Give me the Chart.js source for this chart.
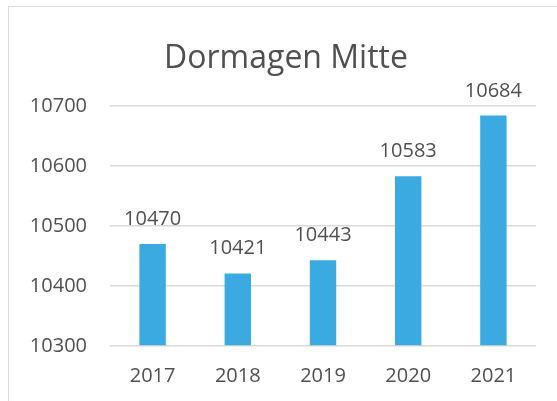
<!DOCTYPE html>
<html>
<head>
<meta charset="utf-8">
<script src="https://cdn.jsdelivr.net/npm/chart.js@4/dist/chart.umd.min.js"></script>
<style>
html,body{margin:0;padding:0;background:#fff;overflow:hidden;}
#wrap{position:relative;width:557px;height:401px;}
#frame{position:absolute;left:8px;top:6px;width:600px;height:500px;border-left:1px solid #d9d9d9;border-top:1px solid #d9d9d9;box-sizing:border-box;pointer-events:none;}
canvas{position:absolute;left:0;top:0;}
</style>
</head>
<body>
<div id="wrap">
<canvas id="c" width="557" height="401"></canvas>
<div id="frame"></div>
</div>
<script>
const title = "Dormagen Mitte";
const categories = ["2017", "2018", "2019", "2020", "2021"];
const values = [10470, 10421, 10443, 10583, 10684];
const yTicks = [10300, 10400, 10500, 10600, 10700];

const FONT = "'Open Sans', sans-serif";
const TXT = "#505050";

const labelPlugin = {
  id: 'labels',
  afterDatasetsDraw(chart) {
    const ctx = chart.ctx;
    ctx.save();
    ctx.font = "20px " + FONT;
    ctx.fillStyle = TXT;
    ctx.textAlign = "center";
    ctx.textBaseline = "alphabetic";
    chart.getDatasetMeta(0).data.forEach((bar, i) => {
      ctx.fillText(String(values[i]), bar.x, bar.y - 19);
    });
    ctx.font = "32px " + FONT;
    ctx.fillText(title, 286, 68);
    ctx.restore();
  }
};

new Chart(document.getElementById('c'), {
  type: 'bar',
  data: {
    labels: categories,
    datasets: [{
      data: values,
      backgroundColor: '#3AAAE0',
      categoryPercentage: 1,
      barPercentage: 0.31,
      base: yTicks[0]
    }]
  },
  options: {
    responsive: false,
    animation: false,
    layout: { padding: { left: 0, right: 21, top: 106, bottom: 0 } },
    plugins: { legend: { display: false }, tooltip: { enabled: false }, title: { display: false } },
    scales: {
      x: {
        grid: { display: false, drawTicks: false },
        border: { display: false },
        ticks: { color: TXT, font: { family: FONT, size: 20 }, padding: 18, maxRotation: 0 },
        afterFit(s) { s.height = 55; }
      },
      y: {
        min: yTicks[0],
        max: yTicks[yTicks.length - 1],
        afterBuildTicks(s) { s.ticks = yTicks.map(v => ({ value: v })); },
        grid: { color: '#d9d9d9', lineWidth: 1.5, drawTicks: false },
        border: { display: false },
        ticks: { color: TXT, font: { family: FONT, size: 20 }, padding: 23, callback: v => String(v) },
        afterFit(s) { s.width = 110; }
      }
    }
  },
  plugins: [labelPlugin]
});
</script>
</body>
</html>
